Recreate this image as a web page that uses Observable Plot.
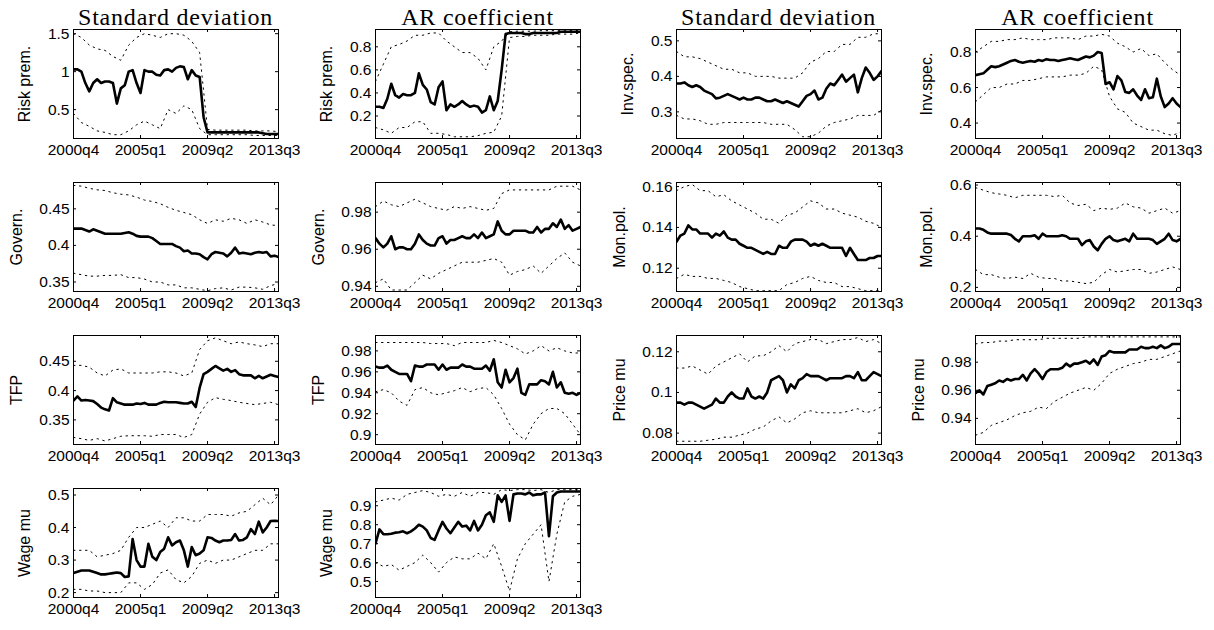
<!DOCTYPE html>
<html><head><meta charset="utf-8">
<script src="https://cdn.jsdelivr.net/npm/d3@7"></script>
<script src="https://cdn.jsdelivr.net/npm/@observablehq/plot@0.6"></script>
<style>
body{margin:0;background:#fff;}
#fig{position:relative;width:1214px;height:630px;overflow:hidden;background:#fff;font-family:"Liberation Sans",Arial,sans-serif;color:#000}
.title{position:absolute;font-family:"Liberation Serif","Times New Roman",serif;font-size:24px;line-height:24px;text-align:center;white-space:nowrap;letter-spacing:0.8px;transform:translateX(-50%)}
.ylab{position:absolute;font-size:16px;line-height:16px;white-space:nowrap;transform:translate(-50%,-50%) rotate(-90deg)}
.panel{position:absolute}
.panel svg{overflow:visible}
</style></head><body><div id="fig"></div>
<script>
// ---------------- data ----------------
const xTickIdx = [0, 17, 34, 51];
const xTickLabels = ["2000q4", "2005q1", "2009q2", "2013q3"];
const colTitles = ["Standard deviation", "AR coefficient", "Standard deviation", "AR coefficient"];
const shockNames = ["Risk prem.", "Govern.", "TFP", "Wage mu", "Inv.spec.", "Mon.pol.", "Price mu"];

// medians: one value per quarter 2000q4..2013q4 ; bands: every second quarter
const riskSdMed = [1.03,1.03,1.0,0.85,0.74,0.85,0.9,0.85,0.87,0.87,0.85,0.58,0.78,0.82,1.0,1.02,0.85,0.72,1.02,1.0,1.0,0.96,0.95,1.02,1.03,1.0,1.05,1.07,1.06,0.9,1.02,0.95,0.93,0.4,0.2,0.2,0.2,0.2,0.2,0.2,0.2,0.2,0.2,0.2,0.2,0.2,0.2,0.2,0.19,0.18,0.18,0.18,0.18];
const riskSdHi = [1.5,1.45,1.35,1.3,1.28,1.2,1.15,1.35,1.45,1.5,1.48,1.45,1.5,1.5,1.48,1.4,1.25,0.24,0.23,0.23,0.23,0.23,0.23,0.22,0.22,0.22,0.21];
const riskSdLo = [0.45,0.33,0.28,0.22,0.2,0.17,0.17,0.22,0.3,0.35,0.3,0.25,0.5,0.45,0.55,0.5,0.25,0.17,0.17,0.17,0.17,0.17,0.17,0.16,0.16,0.16,0.16];

const riskArMed = [0.28,0.28,0.27,0.35,0.48,0.38,0.36,0.39,0.38,0.38,0.4,0.57,0.47,0.43,0.32,0.3,0.45,0.5,0.25,0.3,0.28,0.3,0.33,0.3,0.28,0.29,0.28,0.23,0.25,0.37,0.25,0.33,0.6,0.91,0.92,0.92,0.92,0.92,0.91,0.91,0.92,0.92,0.92,0.92,0.92,0.92,0.92,0.93,0.93,0.93,0.93,0.93,0.93];
const riskArHi = [0.5,0.65,0.8,0.82,0.85,0.9,0.9,0.92,0.92,0.85,0.8,0.75,0.75,0.7,0.6,0.8,0.85,0.93,0.935,0.935,0.935,0.94,0.94,0.94,0.94,0.94,0.94];
const riskArLo = [0.1,0.08,0.05,0.1,0.1,0.15,0.15,0.05,0.05,0.04,0.02,0.02,0.02,0.03,0.05,0.06,0.2,0.88,0.89,0.89,0.9,0.9,0.9,0.91,0.91,0.91,0.92];

const invSdMed = [0.38,0.38,0.383,0.375,0.37,0.375,0.37,0.36,0.355,0.35,0.338,0.34,0.345,0.35,0.345,0.34,0.335,0.34,0.335,0.335,0.34,0.34,0.335,0.33,0.33,0.335,0.33,0.325,0.33,0.325,0.32,0.315,0.33,0.345,0.35,0.36,0.335,0.34,0.365,0.38,0.375,0.39,0.405,0.385,0.395,0.405,0.355,0.395,0.425,0.41,0.39,0.4,0.415];
const invSdHi = [0.47,0.455,0.455,0.45,0.44,0.43,0.42,0.42,0.41,0.41,0.4,0.4,0.4,0.395,0.395,0.395,0.41,0.44,0.45,0.47,0.47,0.49,0.49,0.51,0.51,0.52,0.52];
const invSdLo = [0.29,0.28,0.28,0.275,0.265,0.265,0.27,0.27,0.27,0.27,0.27,0.27,0.265,0.265,0.265,0.25,0.23,0.23,0.24,0.26,0.27,0.275,0.28,0.29,0.29,0.29,0.305];

const invArMed = [0.67,0.675,0.68,0.7,0.72,0.715,0.72,0.73,0.74,0.75,0.755,0.745,0.74,0.745,0.75,0.745,0.755,0.75,0.76,0.755,0.755,0.75,0.755,0.76,0.765,0.76,0.755,0.765,0.775,0.77,0.78,0.8,0.795,0.62,0.63,0.59,0.665,0.64,0.575,0.57,0.59,0.555,0.53,0.59,0.54,0.545,0.65,0.55,0.49,0.51,0.54,0.51,0.49];
const invArHi = [0.8,0.83,0.86,0.86,0.87,0.87,0.88,0.87,0.87,0.87,0.88,0.88,0.88,0.87,0.89,0.89,0.9,0.89,0.85,0.83,0.8,0.82,0.78,0.79,0.74,0.7,0.67];
const invArLo = [0.52,0.56,0.6,0.6,0.62,0.62,0.64,0.64,0.65,0.66,0.66,0.66,0.67,0.67,0.68,0.72,0.7,0.55,0.48,0.46,0.4,0.38,0.36,0.36,0.34,0.33,0.35];

const govSdMed = [0.423,0.423,0.423,0.421,0.419,0.422,0.42,0.418,0.416,0.416,0.416,0.416,0.416,0.417,0.418,0.416,0.413,0.412,0.412,0.412,0.41,0.406,0.402,0.402,0.402,0.402,0.399,0.397,0.392,0.393,0.389,0.389,0.388,0.384,0.381,0.388,0.391,0.39,0.389,0.385,0.39,0.397,0.389,0.39,0.389,0.388,0.39,0.391,0.39,0.391,0.385,0.386,0.384];
const govSdHi = [0.482,0.481,0.478,0.476,0.475,0.472,0.47,0.469,0.466,0.462,0.46,0.457,0.452,0.448,0.445,0.442,0.435,0.43,0.435,0.433,0.437,0.435,0.43,0.435,0.432,0.428,0.427];
const govSdLo = [0.362,0.36,0.358,0.358,0.359,0.359,0.36,0.356,0.356,0.354,0.35,0.35,0.346,0.346,0.342,0.342,0.34,0.338,0.341,0.342,0.339,0.343,0.343,0.342,0.34,0.345,0.348];

const govArMed = [0.966,0.963,0.961,0.963,0.967,0.96,0.961,0.961,0.96,0.96,0.963,0.968,0.965,0.963,0.962,0.962,0.966,0.967,0.963,0.965,0.965,0.966,0.967,0.966,0.966,0.968,0.966,0.969,0.966,0.967,0.968,0.975,0.97,0.968,0.968,0.97,0.97,0.97,0.97,0.969,0.969,0.972,0.969,0.971,0.971,0.974,0.972,0.976,0.971,0.973,0.97,0.971,0.972];
const govArHi = [0.983,0.986,0.984,0.983,0.985,0.987,0.985,0.983,0.982,0.981,0.983,0.982,0.983,0.982,0.981,0.982,0.99,0.992,0.992,0.992,0.992,0.992,0.992,0.994,0.994,0.994,0.992];
const govArLo = [0.942,0.944,0.938,0.938,0.938,0.942,0.946,0.944,0.947,0.949,0.951,0.953,0.953,0.953,0.954,0.955,0.953,0.946,0.948,0.949,0.951,0.947,0.951,0.955,0.958,0.953,0.951];

const monSdMed = [0.133,0.136,0.137,0.141,0.139,0.139,0.137,0.137,0.137,0.135,0.137,0.136,0.138,0.135,0.134,0.134,0.132,0.131,0.13,0.13,0.129,0.128,0.127,0.128,0.127,0.127,0.131,0.13,0.13,0.133,0.134,0.134,0.134,0.133,0.131,0.132,0.131,0.132,0.131,0.13,0.13,0.13,0.13,0.126,0.13,0.127,0.124,0.124,0.124,0.125,0.125,0.126,0.126];
const monSdHi = [0.158,0.16,0.161,0.158,0.158,0.155,0.156,0.153,0.151,0.149,0.147,0.144,0.144,0.142,0.146,0.147,0.15,0.153,0.152,0.149,0.149,0.147,0.146,0.145,0.143,0.142,0.14];
const monSdLo = [0.115,0.117,0.116,0.116,0.115,0.115,0.114,0.113,0.111,0.11,0.109,0.109,0.109,0.109,0.112,0.113,0.115,0.116,0.114,0.113,0.113,0.111,0.111,0.11,0.109,0.109,0.109];

const monArMed = [0.43,0.43,0.425,0.415,0.41,0.41,0.41,0.41,0.41,0.405,0.39,0.38,0.4,0.4,0.4,0.404,0.39,0.41,0.4,0.4,0.4,0.4,0.404,0.4,0.39,0.39,0.39,0.365,0.38,0.385,0.36,0.345,0.37,0.39,0.4,0.385,0.38,0.385,0.39,0.38,0.41,0.39,0.39,0.39,0.39,0.385,0.37,0.38,0.39,0.41,0.385,0.38,0.39];
const monArHi = [0.59,0.58,0.57,0.565,0.56,0.55,0.56,0.56,0.56,0.56,0.555,0.56,0.53,0.52,0.525,0.5,0.51,0.505,0.51,0.53,0.515,0.51,0.49,0.5,0.51,0.49,0.5];
const monArLo = [0.27,0.25,0.25,0.24,0.235,0.24,0.235,0.255,0.24,0.235,0.235,0.225,0.225,0.22,0.215,0.22,0.25,0.27,0.26,0.265,0.27,0.27,0.255,0.26,0.27,0.28,0.27];

const tfpSdMed = [0.383,0.39,0.383,0.384,0.383,0.382,0.377,0.371,0.368,0.366,0.387,0.38,0.378,0.376,0.376,0.376,0.378,0.377,0.379,0.376,0.376,0.376,0.379,0.381,0.38,0.38,0.38,0.379,0.378,0.378,0.381,0.372,0.405,0.428,0.432,0.437,0.442,0.438,0.434,0.437,0.432,0.435,0.428,0.426,0.426,0.426,0.421,0.425,0.421,0.424,0.427,0.425,0.423];
const tfpSdHi = [0.443,0.443,0.44,0.43,0.425,0.435,0.437,0.43,0.43,0.43,0.43,0.432,0.432,0.43,0.425,0.43,0.47,0.485,0.49,0.485,0.48,0.483,0.48,0.478,0.475,0.48,0.48];
const tfpSdLo = [0.32,0.318,0.315,0.318,0.314,0.318,0.322,0.323,0.323,0.323,0.322,0.325,0.325,0.325,0.32,0.325,0.36,0.38,0.388,0.385,0.383,0.38,0.378,0.376,0.378,0.38,0.376];

const tfpArMed = [0.965,0.964,0.964,0.966,0.962,0.96,0.958,0.958,0.958,0.951,0.966,0.965,0.965,0.967,0.967,0.967,0.962,0.967,0.962,0.964,0.964,0.964,0.967,0.965,0.965,0.963,0.963,0.963,0.966,0.961,0.972,0.95,0.945,0.962,0.95,0.954,0.963,0.94,0.938,0.948,0.948,0.948,0.952,0.951,0.948,0.96,0.945,0.95,0.94,0.939,0.94,0.938,0.94];
const tfpArHi = [0.988,0.988,0.988,0.988,0.988,0.988,0.988,0.987,0.987,0.987,0.985,0.988,0.988,0.988,0.988,0.99,0.988,0.985,0.982,0.977,0.98,0.985,0.98,0.983,0.98,0.978,0.978];
const tfpArLo = [0.941,0.943,0.94,0.932,0.928,0.943,0.945,0.94,0.938,0.94,0.942,0.945,0.941,0.944,0.945,0.938,0.925,0.91,0.9,0.895,0.91,0.92,0.925,0.925,0.92,0.91,0.9];

const priceSdMed = [0.095,0.095,0.094,0.095,0.095,0.094,0.093,0.092,0.093,0.094,0.097,0.095,0.095,0.098,0.1,0.098,0.097,0.097,0.102,0.098,0.097,0.098,0.097,0.1,0.106,0.107,0.108,0.106,0.1,0.104,0.102,0.106,0.107,0.109,0.108,0.108,0.108,0.107,0.106,0.107,0.107,0.107,0.107,0.108,0.108,0.107,0.11,0.106,0.106,0.108,0.11,0.109,0.108];
const priceSdHi = [0.112,0.112,0.113,0.111,0.109,0.113,0.115,0.117,0.119,0.115,0.118,0.118,0.12,0.123,0.12,0.124,0.125,0.126,0.126,0.124,0.125,0.126,0.126,0.127,0.125,0.126,0.124];
const priceSdLo = [0.076,0.076,0.076,0.076,0.0765,0.077,0.078,0.078,0.079,0.08,0.082,0.083,0.086,0.088,0.085,0.087,0.09,0.091,0.09,0.09,0.09,0.09,0.091,0.092,0.09,0.091,0.093];

const priceArMed = [0.958,0.96,0.957,0.963,0.964,0.965,0.967,0.966,0.968,0.967,0.968,0.968,0.971,0.967,0.972,0.975,0.972,0.968,0.973,0.975,0.975,0.975,0.976,0.979,0.977,0.979,0.979,0.98,0.981,0.979,0.982,0.978,0.984,0.985,0.988,0.987,0.987,0.987,0.987,0.989,0.989,0.989,0.991,0.99,0.99,0.991,0.99,0.992,0.99,0.991,0.993,0.993,0.993];
const priceArHi = [0.993,0.994,0.994,0.995,0.995,0.996,0.996,0.996,0.996,0.997,0.997,0.997,0.997,0.997,0.998,0.998,0.998,0.998,0.998,0.998,0.998,0.998,0.998,0.998,0.998,0.998,0.998];
const priceArLo = [0.928,0.93,0.935,0.937,0.939,0.942,0.944,0.945,0.948,0.947,0.952,0.955,0.958,0.96,0.962,0.96,0.965,0.972,0.975,0.977,0.979,0.98,0.982,0.982,0.984,0.986,0.988];

const wageSdMed = [0.26,0.264,0.268,0.268,0.268,0.264,0.26,0.256,0.256,0.258,0.26,0.262,0.26,0.248,0.25,0.365,0.3,0.28,0.28,0.35,0.31,0.3,0.325,0.335,0.37,0.345,0.355,0.36,0.33,0.28,0.34,0.315,0.32,0.33,0.37,0.368,0.36,0.355,0.36,0.36,0.362,0.38,0.36,0.362,0.37,0.395,0.38,0.418,0.385,0.4,0.42,0.421,0.42];
const wageSdHi = [0.33,0.33,0.33,0.31,0.315,0.32,0.33,0.37,0.4,0.4,0.41,0.42,0.4,0.43,0.43,0.42,0.42,0.44,0.44,0.44,0.435,0.445,0.45,0.47,0.49,0.47,0.5];
const wageSdLo = [0.21,0.21,0.205,0.205,0.2,0.2,0.2,0.23,0.23,0.21,0.225,0.26,0.27,0.24,0.23,0.25,0.29,0.3,0.29,0.3,0.3,0.31,0.32,0.33,0.33,0.35,0.35];

const wageArMed = [0.7,0.775,0.75,0.75,0.752,0.758,0.76,0.765,0.755,0.765,0.78,0.8,0.79,0.77,0.73,0.72,0.77,0.815,0.78,0.755,0.785,0.815,0.79,0.795,0.77,0.82,0.77,0.8,0.85,0.865,0.815,0.955,0.92,0.955,0.82,0.96,0.965,0.965,0.96,0.97,0.955,0.96,0.96,0.97,0.74,0.95,0.97,0.975,0.975,0.975,0.975,0.975,0.975];
const wageArHi = [0.92,0.93,0.94,0.93,0.96,0.97,0.98,0.97,0.95,0.96,0.95,0.97,0.95,0.97,0.97,0.96,0.985,0.98,0.985,0.985,0.98,0.985,0.97,0.985,0.985,0.985,0.985];
const wageArLo = [0.6,0.58,0.59,0.56,0.58,0.6,0.64,0.6,0.55,0.6,0.63,0.62,0.62,0.65,0.62,0.7,0.58,0.45,0.62,0.7,0.75,0.8,0.5,0.75,0.92,0.95,0.96];

// y-axis tick values and ranges per panel
const yTicksRiskSd = [0.5, 1, 1.5], yDomRiskSd = [0.12, 1.555];
const yTicksRiskAr = [0.2, 0.4, 0.6, 0.8], yDomRiskAr = [0.005, 0.95];
const yTicksInvSd = [0.3, 0.4, 0.5], yDomInvSd = [0.225, 0.532];
const yTicksInvAr = [0.4, 0.6, 0.8], yDomInvAr = [0.313, 0.927];
const yTicksGovSd = [0.35, 0.4, 0.45], yDomGovSd = [0.337, 0.486];
const yTicksGovAr = [0.94, 0.96, 0.98], yDomGovAr = [0.9372, 0.996];
const yTicksMonSd = [0.12, 0.14, 0.16], yDomMonSd = [0.1086, 0.162];
const yTicksMonAr = [0.2, 0.4, 0.6], yDomMonAr = [0.184, 0.61];
const yTicksTfpSd = [0.35, 0.4, 0.45], yDomTfpSd = [0.308, 0.494];
const yTicksTfpAr = [0.9, 0.92, 0.94, 0.96, 0.98], yDomTfpAr = [0.8906, 0.9947];
const yTicksPriceSd = [0.08, 0.1, 0.12], yDomPriceSd = [0.0744, 0.128];
const yTicksPriceAr = [0.94, 0.96, 0.98], yDomPriceAr = [0.9214, 0.999];
const yTicksWageSd = [0.2, 0.3, 0.4, 0.5], yDomWageSd = [0.185, 0.52];
const yTicksWageAr = [0.5, 0.6, 0.7, 0.8, 0.9], yDomWageAr = [0.416, 0.991];

// ---------------- layout ----------------
const colLeft = [73, 375, 676, 975];
const rowTop = [29, 182, 335, 488];
const W = 205, H = 109;
const ML = 50, MR = 32, MT = 4, MB = 26;
const TICK_FS = 15.5;

const panels = [
  {row:0, col:0, name:shockNames[0], med:riskSdMed, hi:riskSdHi, lo:riskSdLo, ticks:yTicksRiskSd, dom:yDomRiskSd},
  {row:0, col:1, name:shockNames[0], med:riskArMed, hi:riskArHi, lo:riskArLo, ticks:yTicksRiskAr, dom:yDomRiskAr},
  {row:0, col:2, name:shockNames[4], med:invSdMed, hi:invSdHi, lo:invSdLo, ticks:yTicksInvSd, dom:yDomInvSd},
  {row:0, col:3, name:shockNames[4], med:invArMed, hi:invArHi, lo:invArLo, ticks:yTicksInvAr, dom:yDomInvAr},
  {row:1, col:0, name:shockNames[1], med:govSdMed, hi:govSdHi, lo:govSdLo, ticks:yTicksGovSd, dom:yDomGovSd},
  {row:1, col:1, name:shockNames[1], med:govArMed, hi:govArHi, lo:govArLo, ticks:yTicksGovAr, dom:yDomGovAr},
  {row:1, col:2, name:shockNames[5], med:monSdMed, hi:monSdHi, lo:monSdLo, ticks:yTicksMonSd, dom:yDomMonSd},
  {row:1, col:3, name:shockNames[5], med:monArMed, hi:monArHi, lo:monArLo, ticks:yTicksMonAr, dom:yDomMonAr},
  {row:2, col:0, name:shockNames[2], med:tfpSdMed, hi:tfpSdHi, lo:tfpSdLo, ticks:yTicksTfpSd, dom:yDomTfpSd},
  {row:2, col:1, name:shockNames[2], med:tfpArMed, hi:tfpArHi, lo:tfpArLo, ticks:yTicksTfpAr, dom:yDomTfpAr},
  {row:2, col:2, name:shockNames[6], med:priceSdMed, hi:priceSdHi, lo:priceSdLo, ticks:yTicksPriceSd, dom:yDomPriceSd},
  {row:2, col:3, name:shockNames[6], med:priceArMed, hi:priceArHi, lo:priceArLo, ticks:yTicksPriceAr, dom:yDomPriceAr},
  {row:3, col:0, name:shockNames[3], med:wageSdMed, hi:wageSdHi, lo:wageSdLo, ticks:yTicksWageSd, dom:yDomWageSd},
  {row:3, col:1, name:shockNames[3], med:wageArMed, hi:wageArHi, lo:wageArLo, ticks:yTicksWageAr, dom:yDomWageAr}
];

const fig = document.getElementById("fig");
const ctx = document.createElement("canvas").getContext("2d");
ctx.font = `${TICK_FS}px "Liberation Sans"`;

colTitles.forEach((t, c) => {
  const d = document.createElement("div");
  d.className = "title";
  d.textContent = t;
  d.style.left = (colLeft[c] + W / 2) + "px";
  d.style.top = "5px";
  fig.appendChild(d);
});

for (const p of panels) {
  const medData = p.med.map((v, i) => ({q: i, v}));
  const hiData = p.hi.map((v, k) => ({q: k * 2, v}));
  const loData = p.lo.map((v, k) => ({q: k * 2, v}));
  const chart = Plot.plot({
    width: ML + W + MR, height: MT + H + MB,
    marginLeft: ML, marginRight: MR, marginTop: MT, marginBottom: MB,
    style: {fontFamily: '"Liberation Sans", Arial, sans-serif', fontSize: TICK_FS + "px", color: "#000", background: "transparent", overflow: "visible"},
    x: {domain: [0, 52], ticks: xTickIdx, tickFormat: d => xTickLabels[xTickIdx.indexOf(d)], tickSize: 0, tickPadding: 5, label: null},
    y: {domain: p.dom, ticks: p.ticks, tickFormat: d => String(d), tickSize: 0, tickPadding: 4, label: null},
    marks: [
      Plot.line(hiData, {x: "q", y: "v", stroke: "#000", strokeWidth: 1, strokeDasharray: "1.5,4.5", clip: true}),
      Plot.line(loData, {x: "q", y: "v", stroke: "#000", strokeWidth: 1, strokeDasharray: "1.5,4.5", clip: true}),
      Plot.line(medData, {x: "q", y: "v", stroke: "#000", strokeWidth: 2.6, clip: true}),
      Plot.tickX(xTickIdx, {x: d => d, stroke: "#000", insetTop: H - 3}),
      Plot.tickX(xTickIdx, {x: d => d, stroke: "#000", insetBottom: H - 3}),
      Plot.tickY(p.ticks, {y: d => d, stroke: "#000", insetRight: W - 3}),
      Plot.tickY(p.ticks, {y: d => d, stroke: "#000", insetLeft: W - 3}),
      Plot.frame({stroke: "#000", strokeWidth: 1})
    ]
  });
  const holder = document.createElement("div");
  holder.className = "panel";
  holder.style.left = (colLeft[p.col] - ML) + "px";
  holder.style.top = (rowTop[p.row] - MT) + "px";
  holder.appendChild(chart);
  fig.appendChild(holder);

  const tw = Math.max(...p.ticks.map(t => ctx.measureText(String(t)).width));
  const lab = document.createElement("div");
  lab.className = "ylab";
  lab.textContent = p.name;
  lab.style.left = (colLeft[p.col] - (4 + tw + 14 + 8)) + "px";
  lab.style.top = (rowTop[p.row] + H / 2) + "px";
  fig.appendChild(lab);
}
</script>
</body></html>
